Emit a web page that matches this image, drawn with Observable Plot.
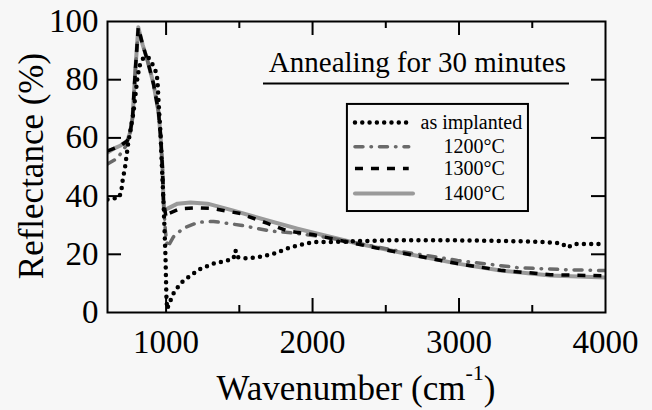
<!DOCTYPE html>
<html><head><meta charset="utf-8">
<script src="https://cdn.jsdelivr.net/npm/d3@7"></script>
<script src="https://cdn.jsdelivr.net/npm/@observablehq/plot@0.6"></script>
<style>
html,body{margin:0;padding:0;background:#f7f7f7;}
svg text, svg tspan{font-family:"Liberation Serif","DejaVu Serif",serif !important;}
</style>
</head><body><div id="chart"></div>
<script>
// ---- data ----
const implantedX = [600,680,695,702,720,741,778,805,825,846,873,894,910,928,941,948,955,962,969,975,982,989,996,1000,1003,1008,1016,1050,1098,1167,1235,1324,1419,1460,1474,1487,1556,1645,1733,1829,1897,2000,2200,2300,2500,3000,3500,3700,3740,3780,4000];
const implantedY = [38.8,39.5,42,45,50,58,69,81,86,87.5,88,86.6,85,83,80,73,67,61.5,53,46,38.5,29,19,10,4,1.2,2.4,6.5,10,12.7,15,16.8,17.9,18.5,21.3,19,18.6,19.2,20.2,22,23,24.2,24.3,24.5,24.8,24.8,24.4,23.8,22.3,23.5,23.5];

const t1200X = [600,668,723,755,771,791,810,840,873,914,948,962,975,982,995,1010,1050,1118,1221,1324,1508,1713,1870,2100,2307,2600,2990,3400,3740,4000];
const t1200Y = [51,53,57,62,67,84,97,92,86.6,78.6,69,61,50,38.5,28,22.4,26,29,31,31.3,30,28,27.3,25.8,23.8,21,17.9,15.4,14.7,14.4];

const t1300X = [600,650,690,735,755,771,791,810,825,840,873,914,948,962,975,982,1000,1016,1098,1214,1324,1508,1693,1829,2000,2307,2600,2990,3283,3624,4000];
const t1300Y = [55.5,56.5,57.4,59,62,67,84,98,95,92,86.6,78.6,69,61,50,38.5,32.6,34,35.7,36,35.7,34,30.6,28,26.8,23.5,20.5,16.8,14.5,13,12.6];

const t1400X = [600,650,690,735,755,771,791,810,825,840,873,914,948,962,975,982,986,1010,1078,1167,1283,1460,1693,1897,2000,2307,2600,2990,3283,3624,4000];
const t1400Y = [55,56.5,57.4,59,62,67,84,98,95,92,86.6,78.6,69,61,50,38.5,35,35.7,37.4,37.8,37.4,35,31.6,28.8,27.5,23.7,20.6,16.8,14.4,12.7,12];

const seriesNames = ["as implanted","1200°C","1300°C","1400°C"];
const xTicks = [1000,2000,3000,4000];
const xMinorTicks = [1500,2500,3500];
const yTicks = [0,20,40,60,80,100];
const titleText = "Annealing for 30 minutes";

// ---- build tables ----
const toRows = (xs, ys) => xs.map((x, i) => ({x, y: ys[i]}));
const implanted = toRows(implantedX, implantedY);
const s1200 = toRows(t1200X, t1200Y);
const s1300 = toRows(t1300X, t1300Y);
const s1400 = toRows(t1400X, t1400Y);

const styles = {
  "as implanted": {stroke: "black", strokeWidth: 4.5, strokeDasharray: "0,7.3", strokeLinecap: "round"},
  "1200°C": {stroke: "#6a6a6a", strokeWidth: 3.5, strokeDasharray: "8,8,0.5,8", strokeLinecap: "round"},
  "1300°C": {stroke: "black", strokeWidth: 3.5, strokeDasharray: "8,8", strokeLinecap: "butt"},
  "1400°C": {stroke: "#9a9a9a", strokeWidth: 4, strokeLinecap: "round"}
};

// legend placement in data units
const legX1 = 2238, legX2 = 3474, legYTop = 71.5, legYBot = 34.7;
const legRowY = [65.3, 57.0, 49.5, 40.9];
const legendRows = seriesNames.map((name, i) => ({name, y: legRowY[i]}));

const plotH = 410 - 21 - 98, plotW = 652 - 107 - 47;
const FONT = '"Liberation Serif","DejaVu Serif",serif';

const chart = Plot.plot({
  width: 652, height: 410,
  marginLeft: 107, marginRight: 47, marginTop: 21, marginBottom: 98,
  style: `background:#f7f7f7;color:black;`,
  x: {domain: [600, 4000]},
  y: {domain: [0, 100]},
  marks: [
    Plot.line(s1400, {x: "x", y: "y", ...styles["1400°C"], clip: true}),
    Plot.line(s1200, {x: "x", y: "y", ...styles["1200°C"], clip: true}),
    Plot.line(s1300, {x: "x", y: "y", ...styles["1300°C"], clip: true}),
    Plot.line(implanted, {x: "x", y: "y", ...styles["as implanted"], clip: true}),
    // ticks (inward, all four sides)
    Plot.tickX(xTicks.slice(0, 3), {x: d => d, stroke: "black", strokeWidth: 2, insetTop: plotH - 14}),
    Plot.tickX(xTicks.slice(0, 3), {x: d => d, stroke: "black", strokeWidth: 2, insetBottom: plotH - 14}),
    Plot.tickX(xMinorTicks, {x: d => d, stroke: "black", strokeWidth: 2, insetTop: plotH - 7}),
    Plot.tickX(xMinorTicks, {x: d => d, stroke: "black", strokeWidth: 2, insetBottom: plotH - 7}),
    Plot.tickY(yTicks.slice(1, 5), {y: d => d, stroke: "black", strokeWidth: 2, insetRight: plotW - 14}),
    Plot.tickY(yTicks.slice(1, 5), {y: d => d, stroke: "black", strokeWidth: 2, insetLeft: plotW - 14}),
    Plot.frame({stroke: "black", strokeWidth: 2}),
    Plot.axisX(xTicks, {tickSize: 0, tickPadding: 17, fontSize: 33, label: null, tickFormat: d => String(d)}),
    Plot.axisY(yTicks, {tickSize: 0, tickPadding: 9, fontSize: 33, label: null, tickFormat: d => String(d)}),
    // title with underline
    Plot.text([titleText], {x: 2716, y: 82.5, text: d => d, fontSize: 29, lineAnchor: "bottom", fill: "black"}),
    Plot.ruleY([78.7], {x1: 1665, x2: 3754, stroke: "black", strokeWidth: 2}),
    // legend box
    Plot.rect([0], {x1: legX1, x2: legX2, y1: legYBot, y2: legYTop, fill: "#f7f7f7", stroke: "black", strokeWidth: 2}),
    ...legendRows.map(r => Plot.ruleY([r.y], {x1: 2293, x2: r.name === "1400°C" ? 2689 : 2660, ...styles[r.name]})),
    Plot.text(legendRows, {x: d => d.name === "as implanted" ? 2737 : 2894, y: "y", text: "name", textAnchor: "start", fontSize: 20, fill: "black"})
  ]
});

const svg = d3.select(chart);
svg.attr("font-family", FONT);
// x axis title with superscript
const xt = svg.append("text")
  .attr("x", 356).attr("y", 400)
  .attr("text-anchor", "middle")
  .attr("font-size", 35).attr("fill", "black");
xt.append("tspan").text("Wavenumber (cm");
xt.append("tspan").attr("font-size", 22).attr("dy", -20).text("-1");
xt.append("tspan").attr("dy", 20).text(")");
// y axis title
svg.append("text")
  .attr("transform", "translate(43,166) rotate(-90)")
  .attr("text-anchor", "middle")
  .attr("font-size", 35).attr("fill", "black")
  .text("Reflectance (%)");

document.getElementById("chart").appendChild(chart);
</script>
</body></html>
